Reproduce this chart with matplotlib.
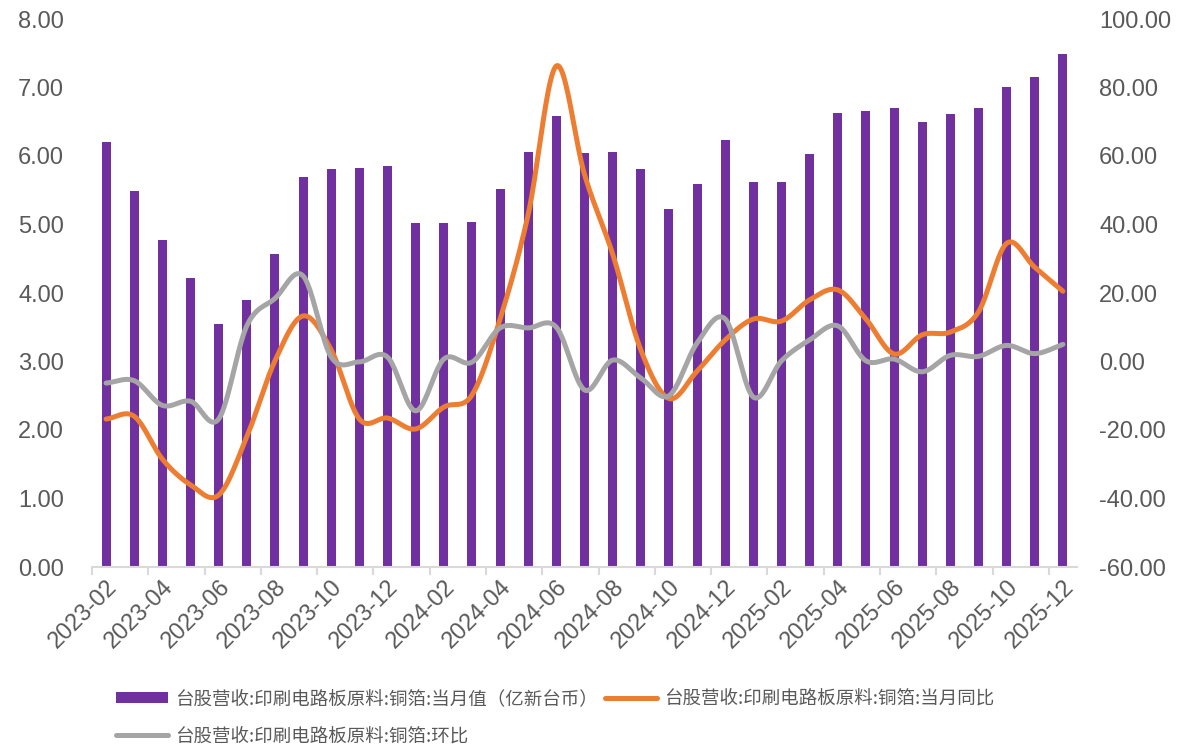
import numpy as np
import matplotlib
matplotlib.use("Agg")
import matplotlib.pyplot as plt
from matplotlib.patches import Patch
from matplotlib.lines import Line2D

months = ["2023-02","2023-03","2023-04","2023-05","2023-06","2023-07","2023-08","2023-09","2023-10","2023-11","2023-12",
          "2024-01","2024-02","2024-03","2024-04","2024-05","2024-06","2024-07","2024-08","2024-09","2024-10","2024-11","2024-12",
          "2025-01","2025-02","2025-03","2025-04","2025-05","2025-06","2025-07","2025-08","2025-09","2025-10","2025-11","2025-12"]
revenue = [6.20, 5.49, 4.77, 4.22, 3.55, 3.90, 4.57, 5.69, 5.81, 5.82, 5.85,
           5.02, 5.02, 5.03, 5.52, 6.06, 6.58, 6.04, 6.06, 5.81, 5.23, 5.59, 6.23,
           5.62, 5.62, 6.03, 6.63, 6.66, 6.70, 6.50, 6.61, 6.70, 7.01, 7.15, 7.49]
yoy = [-16.8, -16.0, -28.5, -36.0, -39.0, -22.0, 0.2, 13.3, 3.4, -16.8, -16.5,
       -19.7, -13.3, -9.8, 12.4, 43.0, 86.3, 54.6, 31.4, 3.4, -10.8, -2.8, 6.3,
       12.4, 11.8, 18.0, 20.9, 12.4, 2.2, 7.8, 8.6, 14.5, 34.5, 27.5, 20.5]
mom = [-6.3, -5.6, -12.8, -11.6, -16.8, 10.4, 18.4, 25.0, 1.3, -0.1, 1.3,
       -14.4, 0.7, -0.2, 9.8, 9.8, 10.0, -8.3, 0.4, -4.8, -10.0, 5.4, 12.4,
       -10.4, 0.2, 6.3, 10.4, 0.2, 0.7, -3.0, 1.8, 1.5, 4.7, 2.3, 5.0]

label_bar = "台股营收:印刷电路板原料:铜箔:当月值（亿新台币）"
label_yoy = "台股营收:印刷电路板原料:铜箔:当月同比"
label_mom = "台股营收:印刷电路板原料:铜箔:环比"

PURPLE = "#7030A0"
ORANGE = "#ED7D31"
GRAY = "#A5A5A5"
TXT = "#595959"


def smooth(x, y, n=24):
    x = np.asarray(x, float); y = np.asarray(y, float)
    px = np.concatenate([[2 * x[0] - x[1]], x, [2 * x[-1] - x[-2]]])
    py = np.concatenate([[2 * y[0] - y[1]], y, [2 * y[-1] - y[-2]]])
    xs, ys = [], []
    t = np.linspace(0, 1, n, endpoint=False)
    for i in range(1, len(px) - 2):
        p0, p1, p2, p3 = py[i - 1], py[i], py[i + 1], py[i + 2]
        q0, q1, q2, q3 = px[i - 1], px[i], px[i + 1], px[i + 2]
        f = lambda a0, a1, a2, a3: 0.5 * ((2 * a1) + (-a0 + a2) * t + (2 * a0 - 5 * a1 + 4 * a2 - a3) * t ** 2 + (-a0 + 3 * a1 - 3 * a2 + a3) * t ** 3)
        xs.append(f(q0, q1, q2, q3)); ys.append(f(p0, p1, p2, p3))
    xs.append([x[-1]]); ys.append([y[-1]])
    return np.concatenate(xs), np.concatenate(ys)


fig = plt.figure(figsize=(12.02, 7.45), dpi=100)
ax = fig.add_axes([92 / 1202, 1 - 567 / 745, (1077 - 92) / 1202, (567 - 19) / 745])
ax2 = ax.twinx()

x = np.arange(len(months))
ax.bar(x, revenue, width=0.32, color=PURPLE, zorder=2)
ax.set_xlim(-0.5, len(months) - 0.5)
ax.set_ylim(0, 8)
ax.set_yticks(np.arange(0, 8.01, 1))
ax.set_yticklabels([f"{v:.2f}" for v in np.arange(0, 8.01, 1)])

sx, sy = smooth(x, yoy)
ax2.plot(sx, sy, color=ORANGE, lw=3.6, solid_capstyle="round", zorder=3)
sx, sy = smooth(x, mom)
ax2.plot(sx, sy, color=GRAY, lw=3.6, solid_capstyle="round", zorder=3)
ax2.set_ylim(-60, 100)
ax2.set_yticks(np.arange(-60, 100.1, 20))
ax2.set_yticklabels([f"{v:.2f}" for v in np.arange(-60, 100.1, 20)])

for a in (ax, ax2):
    for s in a.spines.values():
        s.set_visible(False)
ax.spines["bottom"].set_visible(True)
ax.spines["bottom"].set_color("#D9D9D9")
ax.spines["bottom"].set_linewidth(1.5)

ax.set_xticks(np.arange(-0.5, len(months), 2), minor=False)
ax.set_xticklabels([])
ax.set_xticks(x[::2], minor=True)
ax.set_xticklabels(months[::2], minor=True, rotation=45, ha="right", rotation_mode="anchor",
                   fontsize=17, color=TXT, family="Liberation Sans")
ax.tick_params(axis="x", which="major", length=6, width=1.5, color="#D9D9D9", direction="out")
ax.tick_params(axis="x", which="minor", length=0, pad=6)
ax.tick_params(axis="y", length=0, labelsize=17, labelcolor=TXT, pad=20)
ax2.tick_params(axis="y", length=0, labelsize=17, labelcolor=TXT, pad=16)
for lab in ax.get_yticklabels() + ax2.get_yticklabels():
    lab.set_family("Liberation Sans")

handles = [Patch(facecolor=PURPLE, edgecolor="none"),
           Line2D([], [], color=GRAY, lw=3.6, solid_capstyle="round"),
           Line2D([], [], color=ORANGE, lw=3.6, solid_capstyle="round")]
labels = [label_bar, label_mom, label_yoy]
leg = fig.legend(handles, labels, loc="upper left", bbox_to_anchor=(116 / 1202, 1 - 690 / 745), ncol=2,
                 frameon=False, prop={"family": ["Noto Sans CJK SC", "DejaVu Sans"], "size": 13.3},
                 handlelength=2.8, handleheight=0.5, handletextpad=0.38, columnspacing=0.4, labelspacing=1.05,
                 borderpad=0, borderaxespad=0)
for t in leg.get_texts():
    t.set_color(TXT)

fig.savefig("out.png", dpi=100)
